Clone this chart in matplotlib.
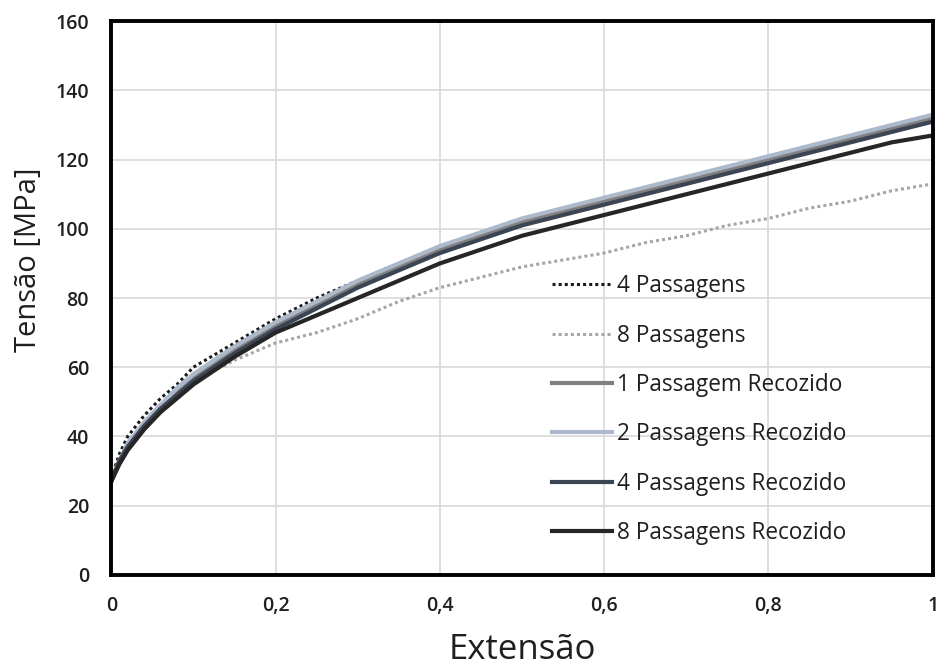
import matplotlib
matplotlib.use("Agg")
import matplotlib.pyplot as plt

# extensão (strain) sampling points and tensão [MPa]
extensao = [0, 0.01, 0.02, 0.04, 0.06, 0.08, 0.1, 0.15, 0.2, 0.25, 0.3, 0.35, 0.4,
            0.45, 0.5, 0.55, 0.6, 0.65, 0.7, 0.75, 0.8, 0.85, 0.9, 0.95, 1.0]

p4 = [28, 35, 40, 46, 51, 55, 60, 67, 74, 80, 85, 90, 95, 99, 102, 105, 108, 111, 114, 117, 120, 123, 126, 129, 131]
p8 = [27, 33, 37, 43, 48, 52, 56, 62, 67, 70, 74, 79, 83, 86, 89, 91, 93, 96, 98, 101, 103, 106, 108, 111, 113]
p1_rec = [27, 33, 37, 44, 49, 53, 57, 65, 72, 78, 84, 89, 94, 98, 102, 105, 108, 111, 114, 117, 120, 123, 126, 129, 132]
p2_rec = [27, 33, 38, 44, 49, 54, 58, 66, 73, 79, 85, 90, 95, 99, 103, 106, 109, 112, 115, 118, 121, 124, 127, 130, 133]
p4_rec = [27, 33, 37, 43, 48, 52, 56, 64, 71, 77, 83, 88, 93, 97, 101, 104, 107, 110, 113, 116, 119, 122, 125, 128, 131]
p8_rec = [27, 32, 36, 42, 47, 51, 55, 63, 70, 75, 80, 85, 90, 94, 98, 101, 104, 107, 110, 113, 116, 119, 122, 125, 127]

labels = ["4 Passagens", "8 Passagens", "1 Passagem Recozido",
          "2 Passagens Recozido", "4 Passagens Recozido", "8 Passagens Recozido"]

plt.rcParams['font.family'] = ['Open Sans', 'DejaVu Sans']

fig = plt.figure(figsize=(9.43, 6.66), dpi=100)
ax = fig.add_axes([0.118, 0.137, 0.871, 0.831])

ax.plot(extensao, p4, color="#1a1a1a", lw=2.2, ls=(0, (1, 1)), label=labels[0])
ax.plot(extensao, p8, color="#a6a6a6", lw=2.2, ls=(0, (1, 1)), label=labels[1])
ax.plot(extensao, p1_rec, color="#808080", lw=3, label=labels[2])
ax.plot(extensao, p2_rec, color="#acb9ca", lw=3, label=labels[3])
ax.plot(extensao, p4_rec, color="#3b4554", lw=3, label=labels[4])
ax.plot(extensao, p8_rec, color="#262626", lw=3, label=labels[5])

ax.set_xlim(0, 1)
ax.set_ylim(0, 160)
ax.set_xticks([0, 0.2, 0.4, 0.6, 0.8, 1])
ax.set_xticklabels(["0", "0,2", "0,4", "0,6", "0,8", "1"])
ax.set_yticks(range(0, 161, 20))
ax.tick_params(length=0, labelsize=14, colors="#1f1f1f")
ax.tick_params(axis="x", pad=15)
ax.tick_params(axis="y", pad=16)
for t in ax.get_xticklabels() + ax.get_yticklabels():
    t.set_fontweight("semibold")
ax.grid(True, color="#d9d9d9", lw=1.2)
ax.set_axisbelow(True)
for s in ax.spines.values():
    s.set_linewidth(2.8)
    s.set_color("black")

ax.set_xlabel("Extensão", fontsize=25, color="#1f1f1f")
ax.xaxis.set_label_coords(0.5, -0.106)
ax.set_ylabel("Tensão [MPa]", fontsize=21, color="#1f1f1f")
ax.yaxis.set_label_coords(-0.083, 0.569)

ax.legend(loc="upper left", bbox_to_anchor=(0.537, 0.543), frameon=False,
          fontsize=16.3, handlelength=2.65, handletextpad=0.2, labelspacing=1.12,
          borderpad=0, borderaxespad=0, labelcolor="#1f1f1f")

fig.savefig("out.png", dpi=100)
